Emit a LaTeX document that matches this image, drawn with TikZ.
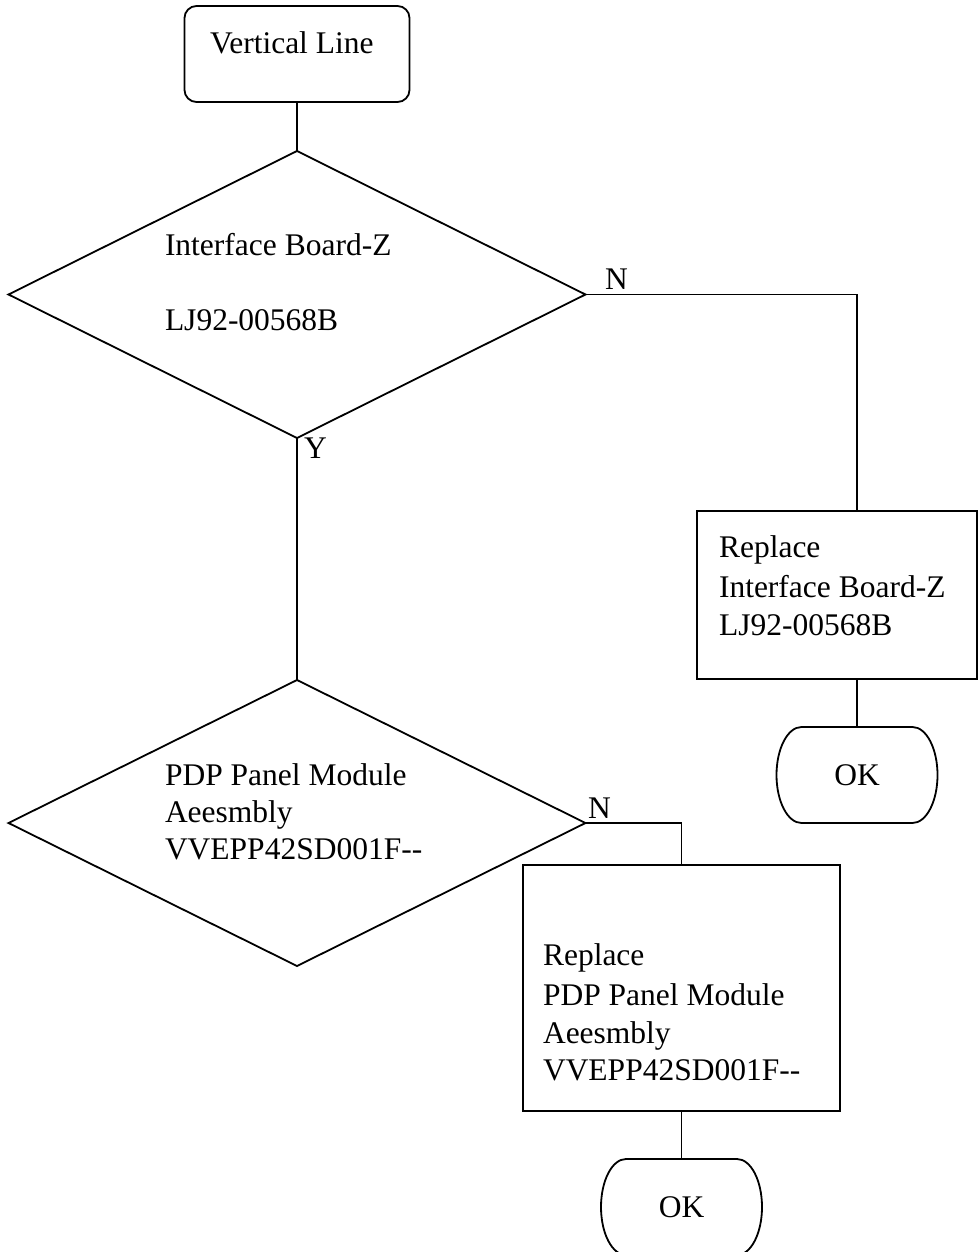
\documentclass[tikz,border=0pt]{standalone}
\usepackage{fontspec}
\setmainfont{Liberation Serif}
\usetikzlibrary{shapes.geometric}
\begin{document}
\begin{tikzpicture}[x=1pt,y=-1pt, line width=1.8pt,
  every node/.style={font=\fontsize{31.5}{38}\selectfont, inner sep=0pt, outer sep=0pt},
  txt/.style={anchor=base west},
  lbl/.style={anchor=base west},
  startbox/.style={draw, rectangle, rounded corners=12pt, minimum width=225pt, minimum height=96pt},
  decision/.style={draw, diamond, minimum width=577pt, minimum height=287pt},
  procbox/.style={draw, rectangle},
  termshape/.style={rectangle, minimum width=161pt, minimum height=96pt},
  termline/.style={line width=1.8pt}]
\useasboundingbox (0,0) rectangle (978,1252);

% shapes
\node[startbox] (start) at (297,54) {};
\node[decision] (d1) at (297,294.5) {};
\node[procbox, minimum width=280pt, minimum height=168pt] (b2) at (837,595) {};
\node[termshape] (ok1) at (857,775) {OK};
\node[decision, minimum height=286pt] (d2) at (297,823) {};
\node[procbox, minimum width=317pt, minimum height=246pt] (b3) at (681.5,988) {};
\node[termshape] (ok2) at (681.5,1207) {OK};

% terminal outlines
\foreach \t in {ok1,ok2}{
  \draw[termline] ([xshift=25pt]\t.north west) -- ([xshift=-25pt]\t.north east)
    arc[start angle=90, end angle=-90, x radius=25pt, y radius=48pt]
    -- ([xshift=25pt]\t.south west)
    arc[start angle=270, end angle=90, x radius=25pt, y radius=48pt] -- cycle;
}

% texts
\node[txt] (t0) at (210,54) {Vertical Line};
\node[txt] (t1a) at (165,255) {Interface Board-Z};
\node[txt] (t1b) at (165,330) {LJ92-00568B};
\node[txt] (t2a) at (719,557) {Replace};
\node[txt] (t2b) at (719,597) {Interface Board-Z};
\node[txt] (t2c) at (719,635) {LJ92-00568B};
\node[txt] (t3a) at (165,785) {PDP Panel Module};
\node[txt] (t3b) at (165,822) {Aeesmbly};
\node[txt] (t3c) at (165,859) {VVEPP42SD001F-{}-};
\node[txt] (t4a) at (543,965) {Replace};
\node[txt] (t4b) at (543,1005) {PDP Panel Module};
\node[txt] (t4c) at (543,1043) {Aeesmbly};
\node[txt] (t4d) at (543,1080) {VVEPP42SD001F-{}-};

% connector labels
\node[lbl] (n1) at (605,289) {N};
\node[lbl] (n2) at (588,818) {N};
\node[lbl] (y1) at (304,458) {Y};

% connectors
\draw (start.south) -- (d1.north);
\draw (d1.east) -| (b2.north -| ok1.north);
\draw (b2.south -| ok1.north) -- (ok1.north);
\draw (d1.south) -- (d2.north);
\draw (d2.east) -| (b3.north);
\draw (b3.south) -- (ok2.north);
\end{tikzpicture}
\end{document}
